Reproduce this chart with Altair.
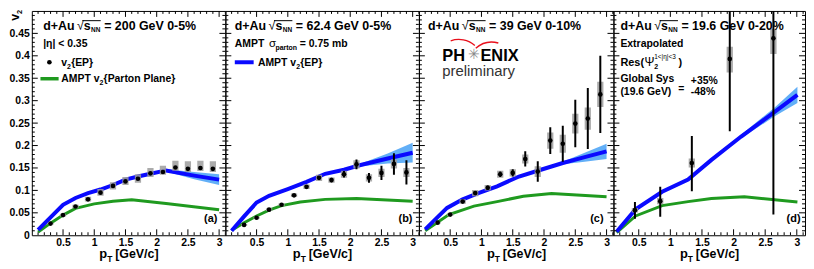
import altair as alt
import pandas as pd

FONT = "Liberation Sans"
H = 226
Y_DOMAIN = [0.0, 0.5]

# ---------------- measured values ----------------
PT = [0.3, 0.5, 0.7, 0.9, 1.1, 1.3, 1.5, 1.7, 1.9, 2.1, 2.3, 2.5, 2.7, 2.9]

# (a) 200 GeV 0-5%
A_V2 = [0.026, 0.045, 0.064, 0.080, 0.095, 0.110, 0.120, 0.126, 0.138, 0.141, 0.151, 0.148, 0.150, 0.148]
A_STAT = [0.001, 0.001, 0.001, 0.001, 0.001, 0.002, 0.002, 0.002, 0.002, 0.003, 0.003, 0.003, 0.004, 0.004]
A_SYS_LO = [0.024, 0.042, 0.060, 0.075, 0.088, 0.102, 0.112, 0.117, 0.130, 0.135, 0.144, 0.141, 0.143, 0.141]
A_SYS_HI = [0.028, 0.048, 0.068, 0.086, 0.103, 0.118, 0.130, 0.136, 0.150, 0.155, 0.166, 0.165, 0.166, 0.165]
A_EP_PT = [0.1, 0.3, 0.5, 0.7, 0.9, 1.1, 1.3, 1.5, 1.7, 1.9, 2.15, 2.6, 3.0]
A_EP = [0.012, 0.040, 0.068, 0.083, 0.094, 0.102, 0.112, 0.124, 0.131, 0.137, 0.1445, 0.133, 0.124]
A_EP_LO = [0.011, 0.038, 0.066, 0.081, 0.092, 0.100, 0.110, 0.122, 0.129, 0.135, 0.142, 0.125, 0.112]
A_EP_HI = [0.013, 0.042, 0.070, 0.085, 0.096, 0.104, 0.114, 0.126, 0.133, 0.139, 0.147, 0.141, 0.136]
A_PP_PT = [0.1, 0.3, 0.5, 0.7, 1.0, 1.3, 1.6, 2.15, 3.0]
A_PP = [0.007, 0.027, 0.045, 0.060, 0.070, 0.076, 0.079, 0.071, 0.057]

# (b) 62.4 GeV 0-5%
B_V2 = [0.023, 0.039, 0.057, 0.068, 0.089, 0.108, 0.128, 0.123, 0.136, 0.158, 0.128, 0.139, 0.159, 0.140]
B_STAT = [0.001, 0.001, 0.002, 0.002, 0.002, 0.003, 0.004, 0.005, 0.007, 0.011, 0.011, 0.016, 0.024, 0.027]
B_SYS_LO = [0.021, 0.037, 0.054, 0.065, 0.085, 0.103, 0.121, 0.117, 0.128, 0.149, 0.120, 0.130, 0.149, 0.130]
B_SYS_HI = [0.025, 0.041, 0.060, 0.071, 0.093, 0.113, 0.135, 0.129, 0.144, 0.167, 0.136, 0.148, 0.169, 0.150]
B_EP_PT = [0.1, 0.3, 0.5, 0.7, 1.0, 1.3, 1.6, 1.9, 2.15, 2.6, 3.0]
B_EP = [0.010, 0.042, 0.073, 0.088, 0.103, 0.119, 0.137, 0.146, 0.156, 0.171, 0.184]
B_EP_LO = [0.009, 0.040, 0.071, 0.086, 0.101, 0.117, 0.135, 0.144, 0.153, 0.160, 0.162]
B_EP_HI = [0.011, 0.044, 0.075, 0.090, 0.105, 0.121, 0.139, 0.148, 0.159, 0.182, 0.206]
B_PP_PT = [0.1, 0.3, 0.5, 0.7, 0.9, 1.2, 1.6, 2.1, 3.0]
B_PP = [0.011, 0.028, 0.043, 0.056, 0.066, 0.074, 0.080, 0.082, 0.076]

# (c) 39 GeV 0-10%
C_V2 = [0.028, 0.046, 0.075, 0.094, 0.106, 0.136, 0.139, 0.170, 0.142, 0.211, 0.204, 0.249, 0.260, 0.314]
C_STAT = [0.002, 0.002, 0.003, 0.004, 0.005, 0.006, 0.008, 0.017, 0.023, 0.030, 0.040, 0.053, 0.068, 0.086]
C_SYS_LO = [0.026, 0.043, 0.070, 0.087, 0.100, 0.128, 0.131, 0.160, 0.130, 0.193, 0.184, 0.227, 0.235, 0.286]
C_SYS_HI = [0.030, 0.049, 0.080, 0.101, 0.112, 0.144, 0.147, 0.180, 0.154, 0.229, 0.224, 0.271, 0.285, 0.342]
C_EP_PT = [0.1, 0.45, 0.7, 0.95, 1.25, 1.6, 1.95, 2.3, 2.65, 3.0]
C_EP = [0.013, 0.061, 0.080, 0.094, 0.109, 0.131, 0.146, 0.161, 0.174, 0.187]
C_EP_LO = [0.012, 0.059, 0.078, 0.092, 0.107, 0.129, 0.144, 0.158, 0.164, 0.170]
C_EP_HI = [0.014, 0.063, 0.082, 0.096, 0.111, 0.133, 0.148, 0.164, 0.184, 0.204]
C_PP_PT = [0.1, 0.48, 0.88, 1.25, 1.67, 2.12, 3.0]
C_PP = [0.010, 0.046, 0.065, 0.075, 0.087, 0.093, 0.086]

# (d) 19.6 GeV 0-20%
D_PT = [0.44, 0.84, 1.34, 1.94, 2.63]
D_V2 = [0.056, 0.076, 0.161, 0.393, 0.439]
D_STAT_LO = [0.037, 0.041, 0.098, 0.232, 0.046]
D_STAT_HI = [0.074, 0.108, 0.221, 0.700, 0.900]
D_SYS_LO = [0.051, 0.069, 0.151, 0.363, 0.404]
D_SYS_HI = [0.061, 0.083, 0.171, 0.420, 0.460]
D_EP_PT = [0.15, 0.45, 0.87, 1.28, 1.65, 2.12, 2.65, 3.01]
D_EP = [0.008, 0.058, 0.097, 0.124, 0.168, 0.220, 0.275, 0.313]
D_EP_LO = [0.007, 0.056, 0.095, 0.122, 0.166, 0.216, 0.265, 0.295]
D_EP_HI = [0.009, 0.060, 0.099, 0.126, 0.170, 0.224, 0.285, 0.331]
D_PP_PT = [0.15, 0.45, 0.87, 1.28, 1.65, 2.17, 3.01]
D_PP = [0.006, 0.043, 0.066, 0.075, 0.082, 0.086, 0.074]

ENERGIES = ["= 200 GeV 0-5%", "= 62.4 GeV 0-5%", "= 39 GeV 0-10%", "= 19.6 GeV 0-20%"]
TAGS = ["(a)", "(b)", "(c)", "(d)"]

X_LABELS = [0.5, 1, 1.5, 2, 2.5, 3]
Y_LABELS = [0, 0.05, 0.1, 0.15, 0.2, 0.25, 0.3, 0.35, 0.4, 0.45]
X_MAJOR = [0.5, 1.0, 1.5, 2.0, 2.5, 3.0]
X_MINOR = [round(0.1 * k, 2) for k in range(1, 32) if k % 5 != 0]
Y_MAJOR = [0.05, 0.1, 0.15, 0.2, 0.25, 0.3, 0.35, 0.4, 0.45]
Y_MINOR = [round(0.01 * k, 3) for k in range(1, 50) if k % 5 != 0]

# ---------------- styles ----------------
BLUE = "#0a0aff"
BAND = "#5aabf7"
GREEN = "#1f9a1f"
GRAY = "#9c9c9c"
RED = "#e8101c"
BOX_HALF = 0.05

PANELS = [
    dict(w=195, dom=[0.0, 3.1], hx=11.4, tagr=8),
    dict(w=195, dom=[0.0, 3.1], hx=9.5, tagr=6.5),
    dict(w=196, dom=[0.0, 3.11], hx=9.2, tagr=10),
    dict(w=193, dom=[0.1, 3.13], hx=7.0, tagr=4.5),
]

DATA = [
    dict(pt=PT, v2=A_V2, elo=[v - s for v, s in zip(A_V2, A_STAT)], ehi=[v + s for v, s in zip(A_V2, A_STAT)],
         slo=A_SYS_LO, shi=A_SYS_HI, ep_pt=A_EP_PT, ep=A_EP, ep_lo=A_EP_LO, ep_hi=A_EP_HI, pp_pt=A_PP_PT, pp=A_PP),
    dict(pt=PT, v2=B_V2, elo=[v - s for v, s in zip(B_V2, B_STAT)], ehi=[v + s for v, s in zip(B_V2, B_STAT)],
         slo=B_SYS_LO, shi=B_SYS_HI, ep_pt=B_EP_PT, ep=B_EP, ep_lo=B_EP_LO, ep_hi=B_EP_HI, pp_pt=B_PP_PT, pp=B_PP),
    dict(pt=PT, v2=C_V2, elo=[v - s for v, s in zip(C_V2, C_STAT)], ehi=[v + s for v, s in zip(C_V2, C_STAT)],
         slo=C_SYS_LO, shi=C_SYS_HI, ep_pt=C_EP_PT, ep=C_EP, ep_lo=C_EP_LO, ep_hi=C_EP_HI, pp_pt=C_PP_PT, pp=C_PP),
    dict(pt=D_PT, v2=D_V2, elo=D_STAT_LO, ehi=D_STAT_HI,
         slo=D_SYS_LO, shi=D_SYS_HI, ep_pt=D_EP_PT, ep=D_EP, ep_lo=D_EP_LO, ep_hi=D_EP_HI, pp_pt=D_PP_PT, pp=D_PP),
]


def T(s, x, y, size=10.5, weight="bold", color="black", align="left", angle=None, baseline="alphabetic"):
    kw = dict(text=s, align=align, baseline=baseline, fontSize=size, fontWeight=weight,
              font=FONT, color=color)
    if angle is not None:
        kw["angle"] = angle
    return alt.Chart().mark_text(**kw).encode(x=alt.value(x), y=alt.value(y))


def HR(x1, x2, y, color="black", width=1.0):
    return alt.Chart().mark_rule(color=color, strokeWidth=width).encode(
        x=alt.value(x1), x2=alt.value(x2), y=alt.value(y))


def panel(idx):
    P = PANELS[idx]
    D = DATA[idx]
    W = P["w"]
    xs = alt.Scale(domain=P["dom"], nice=False, zero=False)
    ys = alt.Scale(domain=Y_DOMAIN, nice=False, zero=False)
    lab = dict(grid=False, ticks=False, tickSize=0, domain=False, title=None, format="~g",
               labelFont=FONT, labelFontSize=10.5, labelFontWeight="bold", labelColor="black",
               labelPadding=2.5, labelFlush=False, labelOverlap=False)
    xax = alt.Axis(values=X_LABELS, **lab)
    yax = alt.Axis(values=Y_LABELS, **lab) if idx == 0 else None

    def X(f):
        return alt.X(f"{f}:Q", scale=xs, axis=xax)

    def Y(f):
        return alt.Y(f"{f}:Q", scale=ys, axis=yax)

    pts = pd.DataFrame({"pt": D["pt"], "v2": D["v2"], "elo": D["elo"], "ehi": D["ehi"],
                        "slo": D["slo"], "shi": D["shi"]})
    ep = pd.DataFrame({"pt": D["ep_pt"], "v2": D["ep"], "lo": D["ep_lo"], "hi": D["ep_hi"]})
    pp = pd.DataFrame({"pt": D["pp_pt"], "v2": D["pp"]})

    layers = [
        alt.Chart(ep).mark_area(color=BAND, opacity=0.95, clip=True).encode(x=X("pt"), y=Y("lo"), y2="hi"),
        alt.Chart(pp).mark_line(color=GREEN, strokeWidth=3, clip=True).encode(x=X("pt"), y=Y("v2")),
        alt.Chart(ep).mark_line(color=BLUE, strokeWidth=4, clip=True).encode(x=X("pt"), y=Y("v2")),
        alt.Chart(pts).transform_calculate(b1=f"datum.pt - {BOX_HALF}", b2=f"datum.pt + {BOX_HALF}")
        .mark_rect(color=GRAY, opacity=0.85, clip=True).encode(x=X("b1"), x2="b2", y=Y("slo"), y2="shi"),
        alt.Chart(pts).mark_rule(color="black", strokeWidth=2, clip=True).encode(x=X("pt"), y=Y("elo"), y2="ehi"),
        alt.Chart(pts).mark_circle(color="black", size=22, opacity=1).encode(x=X("pt"), y=Y("v2")),
    ]

    # inner ticks on all four sides
    for vals, ln in ((Y_MAJOR, 6), (Y_MINOR, 3)):
        df = pd.DataFrame({"v": vals})
        layers.append(alt.Chart(df).mark_rule(color="black", strokeWidth=1, clip=True)
                      .encode(y=Y("v"), x=alt.value(0), x2=alt.value(ln)))
        layers.append(alt.Chart(df).mark_rule(color="black", strokeWidth=1, clip=True)
                      .encode(y=Y("v"), x=alt.value(W), x2=alt.value(W - ln)))
    for vals, ln in ((X_MAJOR, 6), (X_MINOR, 3)):
        df = pd.DataFrame({"v": vals})
        layers.append(alt.Chart(df).mark_rule(color="black", strokeWidth=1, clip=True)
                      .encode(x=X("v"), y=alt.value(H), y2=alt.value(H - ln)))
        layers.append(alt.Chart(df).mark_rule(color="black", strokeWidth=1, clip=True)
                      .encode(x=X("v"), y=alt.value(0), y2=alt.value(ln)))

    # header: d+Au sqrt(s_NN) = ...
    hx = P["hx"]
    y0 = 19.3
    layers += [
        T("d+Au", hx, y0, 12.5),
        T("√", hx + 34, y0, 12.5, weight="normal"),
        T("s", hx + 41, y0, 12.5),
        T("NN", hx + 48.3, y0 + 2, 6.5),
        T(ENERGIES[idx], hx + 61.5, y0, 12.5),
        HR(hx + 39.5, hx + 58, y0 - 9.5),
    ]

    # x-axis title
    tx = W / 2 - 29.5
    layers += [
        T("p", tx, H + 23, 13),
        T("T", tx + 7.9, H + 26.5, 8.5),
        T("[GeV/c]", tx + 16, H + 23, 12.5),
    ]
    layers.append(T(TAGS[idx], W - P["tagr"], H - 13.3, 11, align="right"))

    if idx == 0:
        layers += [
            T("v", -13.4, 10, 12.5, angle=270),
            T("2", -9.7, 3, 7.5, angle=270),
            T("|η| < 0.35", 11.4, 36.7, 10.5),
            alt.Chart().mark_circle(color="black", size=22, opacity=1).encode(x=alt.value(17.7), y=alt.value(51.7)),
            T("v", 29.7, 55, 10.5),
            T("2", 35.5, 58, 7),
            T("{EP}", 39.6, 55, 10.5),
            HR(8.7, 27, 68.3, GREEN, 3.5),
            T("AMPT v", 29.7, 71.7, 10.5),
            T("2", 68.2, 74.7, 7),
            T("{Parton Plane}", 72.3, 71.7, 10.5),
        ]
    elif idx == 1:
        layers += [
            T("AMPT", 9.5, 36.7, 10.5),
            T("σ", 44, 36.7, 11.5, weight="normal"),
            T("parton", 50.5, 39.3, 7),
            T("= 0.75 mb", 75, 36.7, 10.5),
            HR(9.5, 28.5, 51.7, BLUE, 4),
            T("AMPT v", 32.8, 55, 10.5),
            T("2", 71.3, 58, 7),
            T("{EP}", 75.4, 55, 10.5),
        ]
    elif idx == 2:
        layers += [
            alt.Chart().mark_arc(color=RED, radius=25, radius2=23.6, theta=6.283 - 0.343, theta2=6.283 + 0.726)
            .encode(x=alt.value(40.2), y=alt.value(53)),
            alt.Chart().mark_arc(color=RED, radius=25, radius2=23.6, theta=6.283 - 0.731, theta2=6.283 + 0.271)
            .encode(x=alt.value(73.5), y=alt.value(55.7)),
            T("PH", 23.5, 50, 16.5),
            T("✳", 55.5, 44, 14, weight="normal", color="#8a8a8a", align="center", baseline="middle"),
            T("ENIX", 62, 50, 16.5),
            T("preliminary", 23.5, 65.5, 15, weight="normal", color="#333333"),
        ]
    else:
        layers += [
            T("Extrapolated", 7, 36.7, 10.5),
            T("Res(", 7, 55, 11),
            T("Ψ", 31.3, 55, 12, weight="normal"),
            T("2", 41, 58.5, 7),
            T("1<|η|<3", 41, 48.5, 6.5, weight="normal"),
            T(")", 65.5, 55, 11),
            T("Global Sys", 7, 71.7, 10.5),
            T("(19.6 GeV)", 7, 85, 10.5),
            T("=", 65.3, 81.5, 10.5),
            T("+35%", 78, 73.3, 10.5),
            T("-48%", 78, 85, 10.5),
        ]

    return alt.layer(*layers).properties(width=W, height=H)


chart = alt.hconcat(*[panel(i) for i in range(4)], spacing=0, bounds="flush").properties(
    padding=0, background="white"
).configure_view(stroke="black", strokeWidth=1)

chart.save("out.html", embed_options={"renderer": "svg", "actions": False})
